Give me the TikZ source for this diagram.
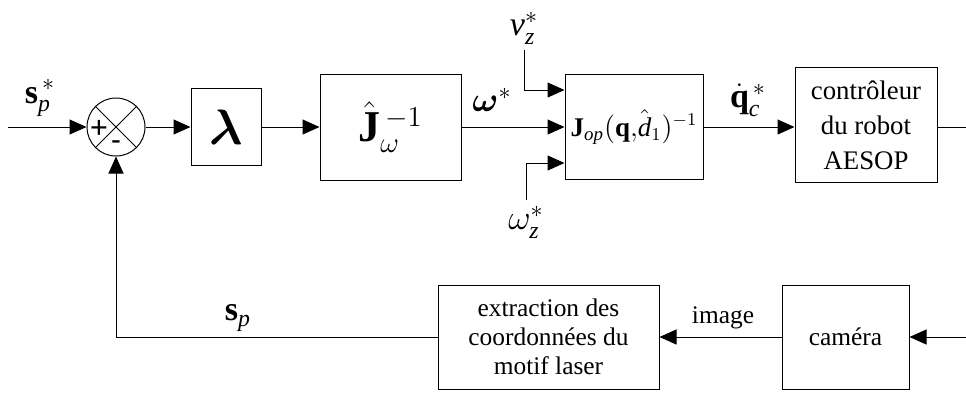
\documentclass[tikz,border=0pt]{standalone}
\usepackage{amsmath}
\usepackage{fontspec}
\setmainfont{Liberation Serif}
\usetikzlibrary{arrows.meta}

\tikzset{
  blockbox/.style={draw, line width=0.5pt, inner sep=0pt, align=center,
    font=\fontsize{12.7}{14.5}\selectfont},
  sigline/.style={line width=0.5pt, -{Triangle[length=8.5pt, width=7.5pt]}},
  siglabel/.style={inner sep=0pt, font=\fontsize{17}{19}\selectfont},
}

\begin{document}
\begin{tikzpicture}[x=0.5pt, y=-0.5pt]
  \useasboundingbox (0,0) rectangle (966,393);
  % forward path
  \node[draw, circle, line width=0.5pt, minimum size=29pt, inner sep=0pt] (sum) at (116,127) {};
  \draw[line width=0.5pt] (sum.north west) -- (sum.south east)
    (sum.north east) -- (sum.south west);
  \node[inner sep=0pt, font=\bfseries\fontsize{16}{16}\selectfont] (plus) at (99,129) {+};
  \node[inner sep=0pt, font=\bfseries\fontsize{14}{14}\selectfont] (minus) at (116,145) {-};
  \node[blockbox, minimum width=35pt, minimum height=38.5pt,
    font=\fontsize{32}{32}\selectfont] (gain) at (226,127) {$\boldsymbol{\lambda}$};
  \node[blockbox, minimum width=70.5pt, minimum height=53pt,
    font=\fontsize{22}{24}\selectfont] (jinv) at (390.5,127) {$\hat{\mathbf{J}}_{\omega}^{\,-1}$};
  \node[blockbox, minimum width=69pt, minimum height=52.5pt,
    font=\fontsize{13.5}{15}\selectfont] (jop) at (634,127)
    {$\mathbf{J}_{\mathit{op}}(\mathbf{q}{,}\hat{\mathit{d}}_1)^{-1}$};
  \node[blockbox, minimum width=71pt, minimum height=57.5pt,
    font=\fontsize{13.4}{17.5}\selectfont] (aesop) at (866,125) {contrôleur\\du robot\\AESOP};
  % feedback path
  \node[blockbox, minimum width=110.5pt, minimum height=52pt] (extract) at (548.5,337)
    {extraction des\\coordonnées du\\motif laser};
  \node[blockbox, minimum width=63.5pt, minimum height=52pt] (camera) at (845.5,337) {caméra};

  % signal labels
  \node[siglabel] (splbl) at (40,98) {$\mathbf{s}_{\mathit{p}}^{\,*}$};
  \node[siglabel] (wlbl) at (492,100) {$\boldsymbol{\omega}^{*}$};
  \node[siglabel] (vzlbl) at (524,28) {$\mathit{v}_{\mathit{z}}^{*}$};
  \node[siglabel] (wzlbl) at (526,222) {$\omega_{\mathit{z}}^{*}$};
  \node[siglabel] (qclbl) at (748,100) {$\dot{\mathbf{q}}_{\mathit{c}}^{\,*}$};
  \node[siglabel] (sfbk) at (238,318) {$\mathbf{s}_{\mathit{p}}$};
  \node[inner sep=0pt, font=\fontsize{12.7}{14.5}\selectfont] (imglbl) at (723,318) {image};

  \coordinate (in) at (8,127);
  \coordinate (out) at (966,127);
  \coordinate (scene) at (966,337);
  \coordinate (vz) at (524,50);
  \coordinate (wz) at (526,200);
  \coordinate (vzin) at ([yshift=18.5pt]jop.west);
  \coordinate (wzin) at ([yshift=-18pt]jop.west);

  \draw[sigline] (in) -- (sum.west);
  \draw[sigline] (sum.east) -- (gain.west);
  \draw[sigline] (gain.east) -- (jinv.west);
  \draw[sigline] (jinv.east) -- (jop.west);
  \draw[sigline] (vz) |- (vzin);
  \draw[sigline] (wz) |- (wzin);
  \draw[sigline] (jop.east) -- (jop.east -| aesop.west);
  \draw[line width=0.5pt] (aesop.east |- out) -- (out);
  \draw[sigline] (scene) -- (camera.east);
  \draw[sigline] (camera.west) -- (extract.east);
  \draw[sigline] (extract.west) -| (sum.south);
\end{tikzpicture}
\end{document}
